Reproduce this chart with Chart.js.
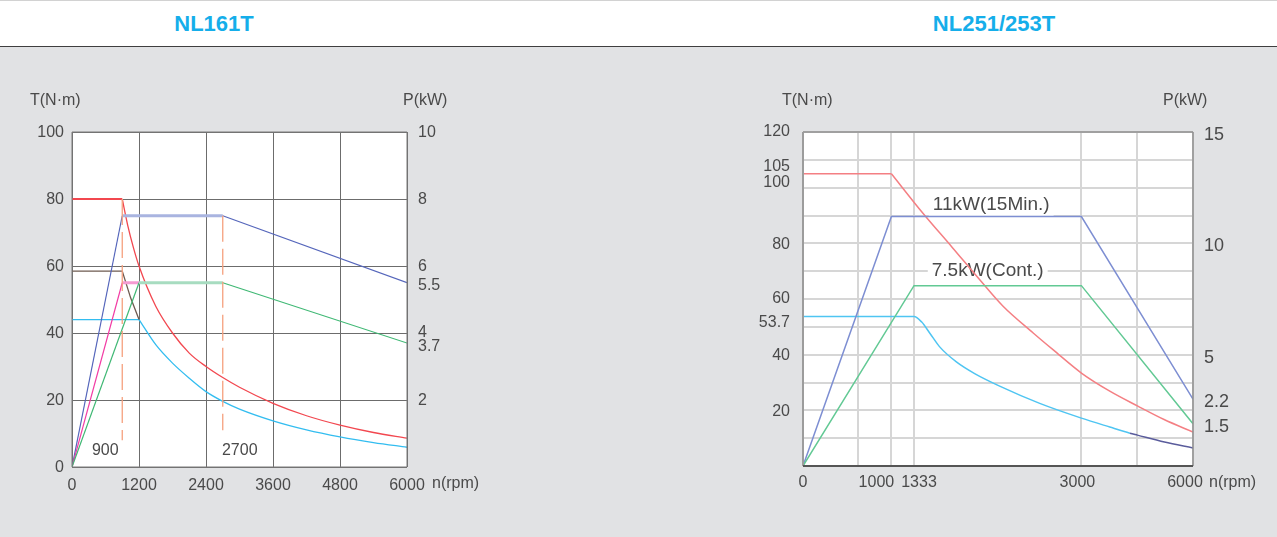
<!DOCTYPE html>
<html>
<head>
<meta charset="utf-8">
<script src="https://cdn.jsdelivr.net/npm/chart.js@4.4.1/dist/chart.umd.min.js"></script>
<style>
  html, body { margin: 0; padding: 0; }
  body {
    width: 1277px; height: 537px; overflow: hidden; position: relative;
    background: #e1e2e4; font-family: "Liberation Sans", Arial, sans-serif;
  }
  .head {
    position: absolute; left: 0; top: 0; width: 1277px; height: 45px;
    background: #fff; border-top: 1px solid #d2d2d2; border-bottom: 1px solid #3f3f3f;
  }
  .title {
    position: absolute; top: 10px; transform: translateX(-50%);
    color: #15aeea; font-size: 22px; font-weight: bold; line-height: 26px;
  }
  canvas { position: absolute; top: 47px; }
</style>
</head>
<body>
<div class="head">
  <span class="title" style="left:214px">NL161T</span>
  <span class="title" style="left:994px">NL251/253T</span>
</div>
<canvas id="c161" width="640" height="490" style="left:0"></canvas>
<canvas id="c253" width="637" height="490" style="left:640px"></canvas>
<script>
// ---- NL161T (torque N·m on left axis, power kW on right axis)
const rpm161Red = [0, 900, 1000, 1100, 1200, 1500, 1800, 2100, 2400, 2700, 3000, 3600, 4200, 4800, 5400, 6000];
const torque161Red = [80, 80, 72, 65.5, 60, 48, 40, 34, 30, 26.7, 23.8, 19, 15.3, 12.5, 10.3, 8.6];
const rpm161Cyan = [0, 1200, 1500, 1800, 2100, 2400, 2700, 3000, 3600, 4200, 4800, 5400, 6000];
const torque161Cyan = [44, 44, 36.5, 31, 26.5, 22.5, 19.6, 17.3, 13.8, 11.1, 9, 7.3, 5.9];
const rpm161Brown = [0, 900, 1050, 1200];
const torque161Brown = [58.5, 58.5, 50.5, 44];
const rpm161Blue = [0, 900, 2700, 6000];
const power161Blue = [0, 7.5, 7.5, 5.5];
const rpm161Green = [0, 1200, 2700, 6000];
const power161Green = [0, 5.5, 5.5, 3.7];
const rpm161Pink = [0, 900, 1200];
const power161Pink = [0, 5.5, 5.5];
const rpm161Marks = [900, 2700];
const markTop161 = [80, 75];
const markBottom161 = [8, 11];
const xTicks161 = [0, 1200, 2400, 3600, 4800, 6000];
const tTicks161 = [0, 20, 40, 60, 80, 100];
const pTicks161 = [2, 3.7, 4, 5.5, 6, 8, 10];

// ---- NL251/253T
const rpm253Red = [0, 1000, 1420, 1710, 1990, 2220, 2520, 2720, 3000, 3760, 4500, 5220, 6000];
const torque253Red = [105, 105, 90.9, 78.7, 66.8, 57.4, 47.8, 41.7, 33.4, 26.9, 21.6, 16.7, 12.2];
const rpm253Cyan = [0, 1333, 1410, 1489, 1589, 1755, 1937, 2186, 2585, 3000, 3760, 4300, 4500, 5230, 6000];
const torque253Cyan = [53.7, 53.7, 51.7, 47.8, 42.8, 37.4, 33.2, 28.7, 22.5, 17.2, 14, 11.8, 11.1, 8.6, 6.5];
const rpm253Blue = [0, 1000, 3000, 6000];
const power253Blue = [0, 11.2, 11.2, 3.0];
const rpm253Green = [0, 1333, 3000, 6000];
const power253Green = [0, 8.1, 8.1, 1.9];
const xTicks253 = [0, 600, 1000, 1333, 3000, 4500, 6000];
const xLabels253 = ["0", "", "1000", "1333", "3000", "", "6000"];
const tGrid253 = [0, 10, 20, 30, 40, 50, 60, 70, 80, 90, 100, 110, 120];
const tLabels253 = [20, 40, 53.7, 60, 80, 100, 105, 120];
const pTicks253 = [1.9, 3.0, 5, 10, 15];
const pLabels253 = ["1.5", "2.2", "5", "10", "15"];

const pts = (xs, ys) => xs.map((x, i) => ({ x, y: ys[i] }));
const txt = "#4a4a4a";
const tickFont = { family: "Liberation Sans", size: 16 };

// x axis of the right chart is not linear: each tick sits at a fixed share of the width
const xBreakFrac = [0, 55 / 390, 88.4 / 390, 111 / 390, 278.4 / 390, 334.4 / 390, 1];
function rpmToFrac(v) {
  for (let i = 1; i < xTicks253.length; i++) {
    if (v <= xTicks253[i]) {
      const a = xTicks253[i - 1], b = xTicks253[i];
      return xBreakFrac[i - 1] + (v - a) / (b - a) * (xBreakFrac[i] - xBreakFrac[i - 1]);
    }
  }
  return 1;
}
function fracToRpm(f) {
  for (let i = 1; i < xBreakFrac.length; i++) {
    if (f <= xBreakFrac[i]) {
      const a = xBreakFrac[i - 1], b = xBreakFrac[i];
      return xTicks253[i - 1] + (f - a) / (b - a) * (xTicks253[i] - xTicks253[i - 1]);
    }
  }
  return xTicks253[xTicks253.length - 1];
}
class PiecewiseScale extends Chart.LinearScale {
  getPixelForValue(value) {
    if (value === null || value === undefined) return NaN;
    return this.getPixelForDecimal(rpmToFrac(value));
  }
  getValueForPixel(pixel) {
    return fracToRpm(this.getDecimalForPixel(pixel));
  }
}
PiecewiseScale.id = "piecewise";
Chart.register(PiecewiseScale);

const flat = (c) => c.p0.parsed.y === c.p1.parsed.y;

// white plot area + frame
function framePlugin(sides) {
  return {
    id: "frame",
    beforeDraw(chart) {
      const { ctx, chartArea: a } = chart;
      ctx.save();
      ctx.fillStyle = "#fff";
      ctx.fillRect(a.left, a.top, a.width, a.height);
      ctx.restore();
    },
    afterDatasetsDraw(chart) {
      const { ctx, chartArea: a } = chart;
      const line = (x1, y1, x2, y2, s) => {
        ctx.strokeStyle = s.c; ctx.lineWidth = s.w;
        ctx.beginPath(); ctx.moveTo(x1, y1); ctx.lineTo(x2, y2); ctx.stroke();
      };
      ctx.save();
      line(a.left, a.top, a.right, a.top, sides.top);
      line(a.right, a.top, a.right, a.bottom, sides.right);
      line(a.left, a.top, a.left, a.bottom, sides.left);
      line(a.left, a.bottom, a.right, a.bottom, sides.bottom);
      ctx.restore();
    },
  };
}

function drawText(ctx, s, x, y, size, align, bg) {
  ctx.font = size + "px 'Liberation Sans', Arial, sans-serif";
  ctx.textAlign = align || "left";
  ctx.textBaseline = "middle";
  if (bg) {
    const w = ctx.measureText(s).width;
    ctx.fillStyle = "#fff";
    ctx.fillRect(x - 4, y - size / 2 - 2, w + 8, size + 4);
  }
  ctx.fillStyle = txt;
  ctx.fillText(s, x, y);
}

// ---------- NL161T ----------
const texts161 = {
  id: "texts161",
  afterDraw(chart) {
    const { ctx, chartArea: a } = chart;
    const xs = chart.scales.x, ps = chart.scales.y2;
    // small nudges so 4 / 3.7 do not collide, as in the original sheet
    const pShift = [1, 4, 0, 3, 1, 1, 1];
    ctx.save();
    pTicks161.forEach((v, i) => {
      drawText(ctx, String(v), a.right + 11, ps.getPixelForValue(v) + pShift[i], 16);
    });
    drawText(ctx, "T(N·m)", 30, 54, 16);
    drawText(ctx, "P(kW)", 403, 54, 16);
    drawText(ctx, "n(rpm)", 432, a.bottom + 17, 16);
    drawText(ctx, "900", xs.getPixelForValue(900) - 17, a.bottom - 16, 16, "center");
    drawText(ctx, "2700", xs.getPixelForValue(2700) + 17, a.bottom - 16, 16, "center");
    ctx.restore();
  },
};

const dash = (i) => ({
  data: pts([rpm161Marks[i], rpm161Marks[i]], [markTop161[i], markBottom161[i]]),
  borderColor: "#f6a07e", borderWidth: 1.3, borderDash: [26, 7], yAxisID: "y",
});

const ds161 = [
  dash(0),
  dash(1),
  {
    data: pts(rpm161Green, power161Green), yAxisID: "y2", borderColor: "#3fb874", borderWidth: 1.2,
    segment: { borderWidth: (c) => (flat(c) ? 3 : 1.2), borderColor: (c) => (flat(c) ? "#a7dcc0" : "#3fb874") },
  },
  {
    data: pts(rpm161Pink, power161Pink), yAxisID: "y2", borderColor: "#f23ca4", borderWidth: 1.2,
    segment: { borderWidth: (c) => (flat(c) ? 3 : 1.2), borderColor: (c) => (flat(c) ? "#f59bd2" : "#f23ca4") },
  },
  {
    data: pts(rpm161Blue, power161Blue), yAxisID: "y2", borderColor: "#5566bb", borderWidth: 1.2,
    segment: { borderWidth: (c) => (flat(c) ? 3 : 1.2), borderColor: (c) => (flat(c) ? "#a9b4e0" : "#5566bb") },
  },
  { data: pts(rpm161Brown, torque161Brown), yAxisID: "y", borderColor: "#6e5b50", borderWidth: 1.3 },
  // flat part and falling part drawn separately so the corner stays sharp
  { data: pts(rpm161Cyan.slice(0, 2), torque161Cyan.slice(0, 2)), yAxisID: "y", borderColor: "#33bdf0", borderWidth: 1.3 },
  { data: pts(rpm161Cyan.slice(1), torque161Cyan.slice(1)), yAxisID: "y", borderColor: "#33bdf0", borderWidth: 1.3, cubicInterpolationMode: "monotone" },
  { data: pts(rpm161Red.slice(0, 2), torque161Red.slice(0, 2)), yAxisID: "y", borderColor: "#f2474f", borderWidth: 2.2 },
  { data: pts(rpm161Red.slice(1), torque161Red.slice(1)), yAxisID: "y", borderColor: "#f2474f", borderWidth: 1.3, cubicInterpolationMode: "monotone" },
];

new Chart(document.getElementById("c161"), {
  type: "line",
  data: { datasets: ds161 },
  options: {
    responsive: false,
    animation: false,
    layout: { padding: { top: 85 } },
    elements: { point: { radius: 0 } },
    plugins: { legend: { display: false }, tooltip: { enabled: false } },
    scales: {
      x: {
        type: "linear", min: 0, max: 6000,
        afterBuildTicks: (s) => { s.ticks = xTicks161.map((v) => ({ value: v })); },
        ticks: { color: txt, font: tickFont, padding: 9, maxRotation: 0, autoSkip: false, callback: (v) => String(v) },
        grid: { color: "#6c6c6c", lineWidth: 1, drawTicks: false },
        border: { display: false },
        afterFit: (s) => { s.height = 70; },
      },
      y: {
        position: "left", min: 0, max: 100,
        afterBuildTicks: (s) => { s.ticks = tTicks161.map((v) => ({ value: v })); },
        ticks: { color: txt, font: tickFont, padding: 8, labelOffset: 1 },
        grid: { color: "#6c6c6c", lineWidth: 1, drawTicks: false },
        border: { display: false },
        afterFit: (s) => { s.width = 72; },
      },
      y2: {
        position: "right", min: 0, max: 10,
        ticks: { display: false },
        grid: { drawOnChartArea: false, drawTicks: false },
        border: { display: false },
        afterFit: (s) => { s.width = 233; },
      },
    },
  },
  plugins: [
    framePlugin({
      top: { c: "#7a7a7a", w: 1 }, right: { c: "#7a7a7a", w: 1 },
      left: { c: "#7a7a7a", w: 1 }, bottom: { c: "#7a7a7a", w: 1 },
    }),
    texts161,
  ],
});

// ---------- NL251/253T ----------
const texts253 = {
  id: "texts253",
  beforeDatasetsDraw(chart) {
    const { ctx } = chart;
    const xs = chart.scales.x, ys = chart.scales.y;
    ctx.save();
    drawText(ctx, "11kW(15Min.)", xs.getPixelForValue(1520), ys.getPixelForValue(94), 19, "left", true);
    drawText(ctx, "7.5kW(Cont.)", xs.getPixelForValue(1510), ys.getPixelForValue(70), 19, "left", true);
    ctx.restore();
  },
  afterDraw(chart) {
    const { ctx, chartArea: a } = chart;
    const xs = chart.scales.x, ys = chart.scales.y;
    // nudges keep close labels apart, as in the original sheet
    const xShift = [0, 0, -15, 5, -4, 0, -8];
    const tShift = [1, 1, 6.5, 0, 1, -5, -7, 0];
    ctx.save();
    xTicks253.forEach((v, i) => {
      if (xLabels253[i]) drawText(ctx, xLabels253[i], xs.getPixelForValue(v) + xShift[i], a.bottom + 17, 16, "center");
    });
    tLabels253.forEach((v, i) => {
      drawText(ctx, String(v), a.left - 13, ys.getPixelForValue(v) + tShift[i], 16, "right");
    });
    drawText(ctx, "T(N·m)", 142, 54, 16);
    drawText(ctx, "P(kW)", 523, 54, 16);
    drawText(ctx, "n(rpm)", 569, a.bottom + 17, 16);
    ctx.restore();
  },
};

new Chart(document.getElementById("c253"), {
  type: "line",
  data: {
    datasets: [
      { data: pts(rpm253Green, power253Green), yAxisID: "y2", borderColor: "#62c994", borderWidth: 1.5 },
      { data: pts(rpm253Blue, power253Blue), yAxisID: "y2", borderColor: "#7d8ed2", borderWidth: 1.5 },
      {
        data: pts(rpm253Cyan, torque253Cyan), yAxisID: "y", borderColor: "#4fc5f2", borderWidth: 1.5,
        cubicInterpolationMode: "monotone",
        segment: { borderColor: (c) => (c.p0.parsed.x >= 4300 ? "#5a5c9c" : "#4fc5f2") },
      },
      { data: pts(rpm253Red.slice(0, 2), torque253Red.slice(0, 2)), yAxisID: "y", borderColor: "#f47f83", borderWidth: 1.5 },
      { data: pts(rpm253Red.slice(1), torque253Red.slice(1)), yAxisID: "y", borderColor: "#f47f83", borderWidth: 1.5, cubicInterpolationMode: "monotone" },
    ],
  },
  options: {
    responsive: false,
    animation: false,
    layout: { padding: { top: 85 } },
    elements: { point: { radius: 0 } },
    plugins: { legend: { display: false }, tooltip: { enabled: false } },
    scales: {
      x: {
        type: "piecewise", min: 0, max: 6000,
        afterBuildTicks: (s) => { s.ticks = xTicks253.map((v) => ({ value: v })); },
        ticks: { display: false },
        grid: { color: "#d6d6d6", lineWidth: 2, drawTicks: false },
        border: { display: false },
        afterFit: (s) => { s.height = 71; },
      },
      y: {
        position: "left", min: 0, max: 120,
        afterBuildTicks: (s) => { s.ticks = tGrid253.map((v) => ({ value: v })); },
        ticks: { display: false },
        grid: { color: "#d6d6d6", lineWidth: 2, drawTicks: false },
        border: { display: false },
        afterFit: (s) => { s.width = 163; },
      },
      y2: {
        position: "right", min: 0, max: 15,
        afterBuildTicks: (s) => { s.ticks = pTicks253.map((v) => ({ value: v })); },
        ticks: {
          color: txt, font: { family: "Liberation Sans", size: 18 }, padding: 11, autoSkip: false, labelOffset: 3,
          callback: (v, i) => pLabels253[i],
        },
        grid: { drawOnChartArea: false, drawTicks: false },
        border: { display: false },
        afterFit: (s) => { s.width = 84; },
      },
    },
  },
  plugins: [
    framePlugin({
      top: { c: "#8e8e8e", w: 1.5 }, right: { c: "#8e8e8e", w: 1.5 },
      left: { c: "#9c9c9c", w: 2 }, bottom: { c: "#555", w: 2 },
    }),
    texts253,
  ],
});
</script>
</body>
</html>
